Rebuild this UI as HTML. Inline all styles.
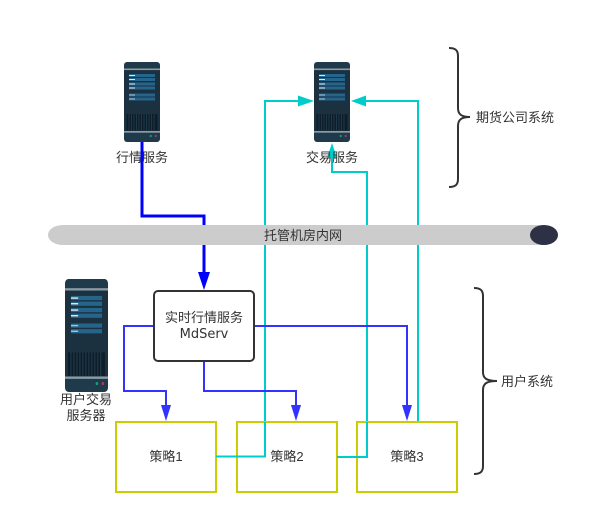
<!DOCTYPE html>
<html>
<head>
<meta charset="utf-8">
<style>
html,body{margin:0;padding:0;background:#fff;}
svg{display:block;}
text{font-family:"Liberation Sans","Noto Sans CJK SC",sans-serif;font-size:13px;fill:#333;text-anchor:middle;}
</style>
</head>
<body>
<svg width="600" height="523" viewBox="0 0 600 523" xmlns="http://www.w3.org/2000/svg">
<defs>
<symbol id="srv" viewBox="0 0 36 80" preserveAspectRatio="none">
<rect x="0" y="0" width="36" height="80" rx="3" fill="#1f3a4b"/>
<rect x="0" y="6.5" width="36" height="1.7" fill="#8b9ca6"/>
<rect x="0" y="8.2" width="36" height="43" fill="#1b3140"/>
<rect x="5" y="12" width="26" height="3" fill="#25658c"/>
<rect x="5" y="16" width="26" height="3" fill="#25658c"/>
<rect x="5" y="20.5" width="26" height="3" fill="#25658c"/>
<rect x="5" y="24.5" width="26" height="3" fill="#25658c"/>
<rect x="5" y="31.5" width="26" height="3" fill="#25658c"/>
<rect x="5" y="35.5" width="26" height="3" fill="#25658c"/>
<rect x="5" y="13" width="6" height="1" fill="#dfe8ee"/>
<rect x="5" y="17" width="6" height="1" fill="#dfe8ee"/>
<rect x="5" y="21.5" width="6" height="1" fill="#dfe8ee"/>
<rect x="5" y="25.5" width="6" height="1" fill="#dfe8ee"/>
<rect x="5" y="32.5" width="6" height="1" fill="#a9c3d3"/>
<rect x="5" y="36.5" width="6" height="1" fill="#a9c3d3"/>
<rect x="0" y="51" width="36" height="18" fill="#1b3140"/>
<rect x="2.5" y="52" width="31" height="16.5" fill="#0d1d29"/>
<path d="M5 52V68.5M7.5 52V68.5M10 52V68.5M12.5 52V68.5M15 52V68.5M17.5 52V68.5M20 52V68.5M22.5 52V68.5M25 52V68.5M27.5 52V68.5M30 52V68.5" stroke="#274456" stroke-width=".7" fill="none"/>
<rect x="0" y="69" width="36" height="1.7" fill="#8b9ca6"/>
<circle cx="26.7" cy="74" r="1.1" fill="#1f9a78"/>
<circle cx="31.7" cy="74" r="1.1" fill="#b5345c"/>
</symbol>
</defs>

<!-- thick blue connector -->
<path d="M142 142V216H204V274" fill="none" stroke="#0000ff" stroke-width="3"/>
<polygon points="198,272 210,272 204,290" fill="#0000ff"/>

<!-- cyan connectors -->
<g fill="none" stroke="#00cccc" stroke-width="2">
<path d="M216 456.5H265V101H300"/>
<path d="M337 457H367V172H332V156"/>
<path d="M418 422V101H366"/>
</g>
<polygon points="298,95.5 298,106.5 314,101" fill="#00cccc"/>
<polygon points="366,95.5 366,106.5 351,101" fill="#00cccc"/>

<!-- network bar, drawn above the passing lines -->
<path d="M63 225H545V245H63A15 10 0 0 1 63 225Z" fill="#cccccc"/>
<ellipse cx="544" cy="235" rx="14" ry="10" fill="#2e3145"/>
<text x="303" y="240">托管机房内网</text>

<!-- servers -->
<use href="#srv" x="124" y="62" width="36" height="80"/>
<use href="#srv" x="314" y="62" width="36" height="80"/>
<use href="#srv" x="65" y="279" width="43" height="113"/>
<polygon points="327,158 337,158 332,143" fill="#00cccc"/>

<text x="142" y="162">行情服务</text>
<text x="332" y="162">交易服务</text>
<text x="86" y="404">用户交易</text>
<text x="86" y="420">服务器</text>

<!-- strategy boxes -->
<g fill="#fff" stroke="#cccc00" stroke-width="2">
<rect x="116" y="422" width="100" height="70"/>
<rect x="237" y="422" width="100" height="70"/>
<rect x="357" y="422" width="100" height="70"/>
</g>
<g fill="none" stroke="#00cccc" stroke-width="2">
<path d="M216 456.5H265V422"/>
<path d="M337 457H367V422"/>
</g>
<text x="166" y="461">策略1</text>
<text x="287" y="461">策略2</text>
<text x="407" y="461">策略3</text>

<!-- blue connectors -->
<g fill="none" stroke="#3333ff" stroke-width="2">
<path d="M154 326H124V391H166V406"/>
<path d="M204 361V391H296V406"/>
<path d="M254 326H407V406"/>
</g>
<polygon points="161,405 171,405 166,421" fill="#3333ff"/>
<polygon points="291,405 301,405 296,421" fill="#3333ff"/>
<polygon points="402,405 412,405 407,421" fill="#3333ff"/>

<!-- MdServ box -->
<rect x="154" y="291" width="100" height="70" rx="4" fill="#fff" stroke="#333" stroke-width="2"/>
<text x="204" y="322">实时行情服务</text>
<text x="204" y="338" style="font-family:'DejaVu Sans',sans-serif">MdServ</text>

<!-- braces -->
<g fill="none" stroke="#333" stroke-width="2">
<path d="M449 48C455 48 458 50 458 56V108C458 114 461 117 470 117C461 117 458 120 458 126V179C458 185 455 187 449 187"/>
<path d="M474 288C480 288 483 290 483 296V372C483 378 486 381 497 381C486 381 483 384 483 390V466C483 472 480 474 474 474"/>
</g>
<text x="515" y="122">期货公司系统</text>
<text x="527" y="386">用户系统</text>
</svg>
</body>
</html>
